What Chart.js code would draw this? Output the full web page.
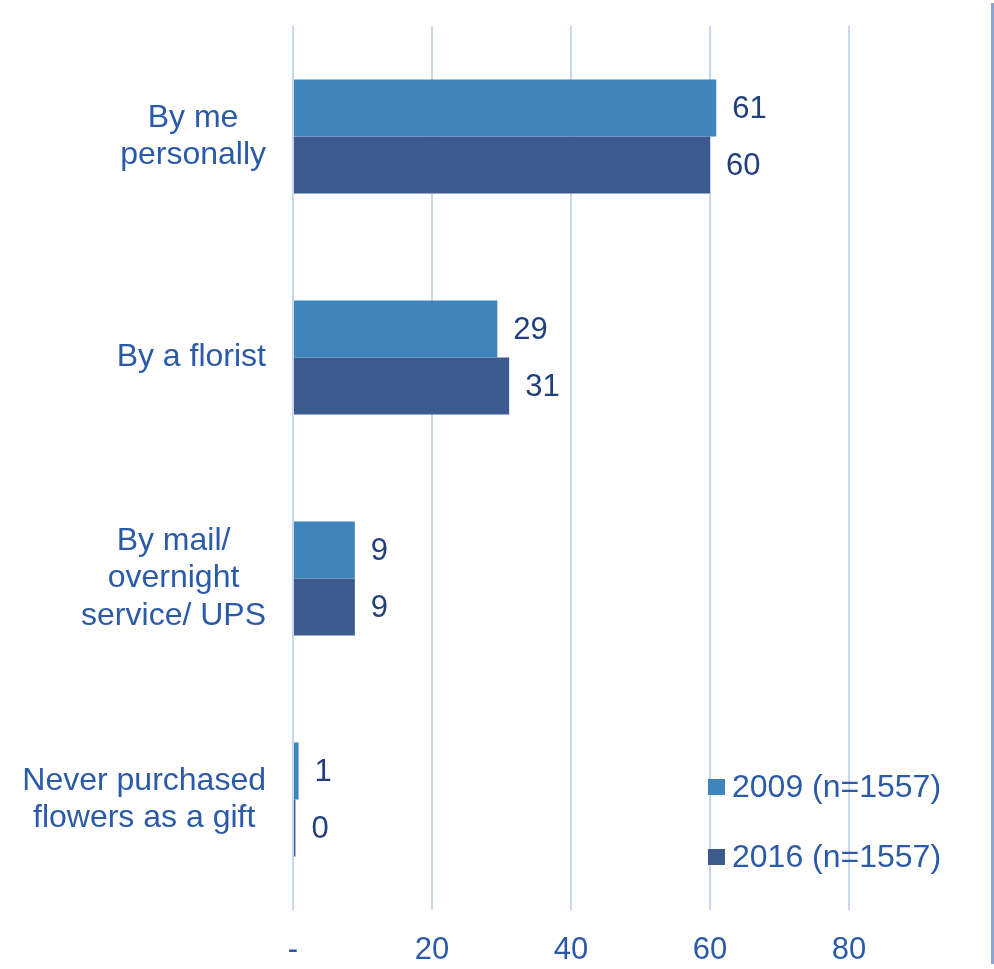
<!DOCTYPE html>
<html>
<head>
<meta charset="utf-8">
<script src="https://cdn.jsdelivr.net/npm/chart.js@4/dist/chart.umd.min.js"></script>
<style>
  html, body { margin: 0; padding: 0; background: #ffffff; }
  #wrap { width: 994px; height: 969px; position: relative; }
</style>
</head>
<body>
<div id="wrap"><canvas id="chart" width="994" height="969"></canvas></div>
<script>
// categories (each entry split into its display lines)
const categories = [
  ["By me", "personally"],
  ["By a florist"],
  ["By mail/", "overnight", "service/ UPS"],
  ["Never purchased", "flowers as a gift"],
];
const series2009 = [60.9, 29.4, 8.9, 0.8];
const series2016 = [60.0, 31.1, 8.9, 0.35];
const seriesNames = ["2009 (n=1557)", "2016 (n=1557)"];
const xTicks = [0, 20, 40, 60, 80];

const LABEL_BLUE = "#2b5aa8";
const VALUE_BLUE = "#213f7c";
const FONT = "'Liberation Sans', Arial, sans-serif";

const overlay = {
  id: "overlay",
  afterDatasetsDraw(chart) {
    const { ctx, chartArea, scales } = chart;
    ctx.save();

    // value labels at bar ends
    ctx.font = "31px " + FONT;
    ctx.fillStyle = VALUE_BLUE;
    ctx.textAlign = "left";
    ctx.textBaseline = "middle";
    chart.data.datasets.forEach((ds, di) => {
      chart.getDatasetMeta(di).data.forEach((bar, i) => {
        ctx.fillText(String(Math.round(ds.data[i])), bar.x + 16, bar.y + 1);
      });
    });

    // category labels: block right-aligned, lines centred inside block
    ctx.font = "32px " + FONT;
    ctx.fillStyle = LABEL_BLUE;
    ctx.textAlign = "center";
    const rightEdge = chartArea.left - 27;
    const lh = 37.5;
    categories.forEach((lines, i) => {
      const cy = scales.y.getPixelForTick(i);
      const w = Math.max(...lines.map((l) => ctx.measureText(l).width));
      const cx = rightEdge - w / 2;
      lines.forEach((l, k) => {
        ctx.fillText(l, cx, cy + (k - (lines.length - 1) / 2) * lh);
      });
    });

    // legend inside the plot, lower right
    const colors = chart.data.datasets.map((d) => d.backgroundColor);
    ctx.font = "32px " + FONT;
    ctx.textAlign = "left";
    const lx = chartArea.left + 415;
    [787, 857].forEach((y, i) => {
      ctx.fillStyle = colors[i];
      ctx.fillRect(lx, y - 8, 17, 16);
      ctx.fillStyle = LABEL_BLUE;
      ctx.fillText(seriesNames[i], lx + 24, y + 1);
    });

    // frame line on the right edge
    ctx.strokeStyle = "#8ba4d4";
    ctx.lineWidth = 3;
    ctx.beginPath();
    ctx.moveTo(992.5, 3);
    ctx.lineTo(992.5, 964);
    ctx.stroke();

    ctx.restore();
  },
};

new Chart(document.getElementById("chart"), {
  type: "bar",
  data: {
    labels: categories.map((c) => c.join(" ")),
    datasets: [
      {
        label: seriesNames[0],
        data: series2009,
        backgroundColor: "#3f84bb",
        categoryPercentage: 0.516,
        barPercentage: 1,
      },
      {
        label: seriesNames[1],
        data: series2016,
        backgroundColor: "#3c5a8e",
        categoryPercentage: 0.516,
        barPercentage: 1,
      },
    ],
  },
  options: {
    indexAxis: "y",
    responsive: false,
    animation: false,
    layout: { padding: { top: 26, right: 6, left: 0, bottom: 0 } },
    plugins: {
      legend: { display: false },
      tooltip: { enabled: false },
    },
    scales: {
      x: {
        min: 0,
        max: 100,
        afterBuildTicks: (scale) => {
          scale.ticks = xTicks.map((v) => ({ value: v }));
        },
        afterFit: (scale) => {
          scale.height = 59;
          scale.paddingRight = 0;
        },
        border: { display: false },
        grid: {
          drawTicks: false,
          lineWidth: 2,
          color: "#c7d7f0",
        },
        ticks: {
          padding: 22,
          color: LABEL_BLUE,
          font: { family: "'Liberation Sans Narrow', 'Liberation Sans', Arial, sans-serif", size: 31 },
          callback: (v) => (v === 0 ? "-" : String(v)),
        },
      },
      y: {
        afterFit: (scale) => {
          scale.width = 293;
        },
        border: { display: false },
        grid: { display: false },
        ticks: { display: false },
      },
    },
  },
  plugins: [overlay],
});
</script>
</body>
</html>
